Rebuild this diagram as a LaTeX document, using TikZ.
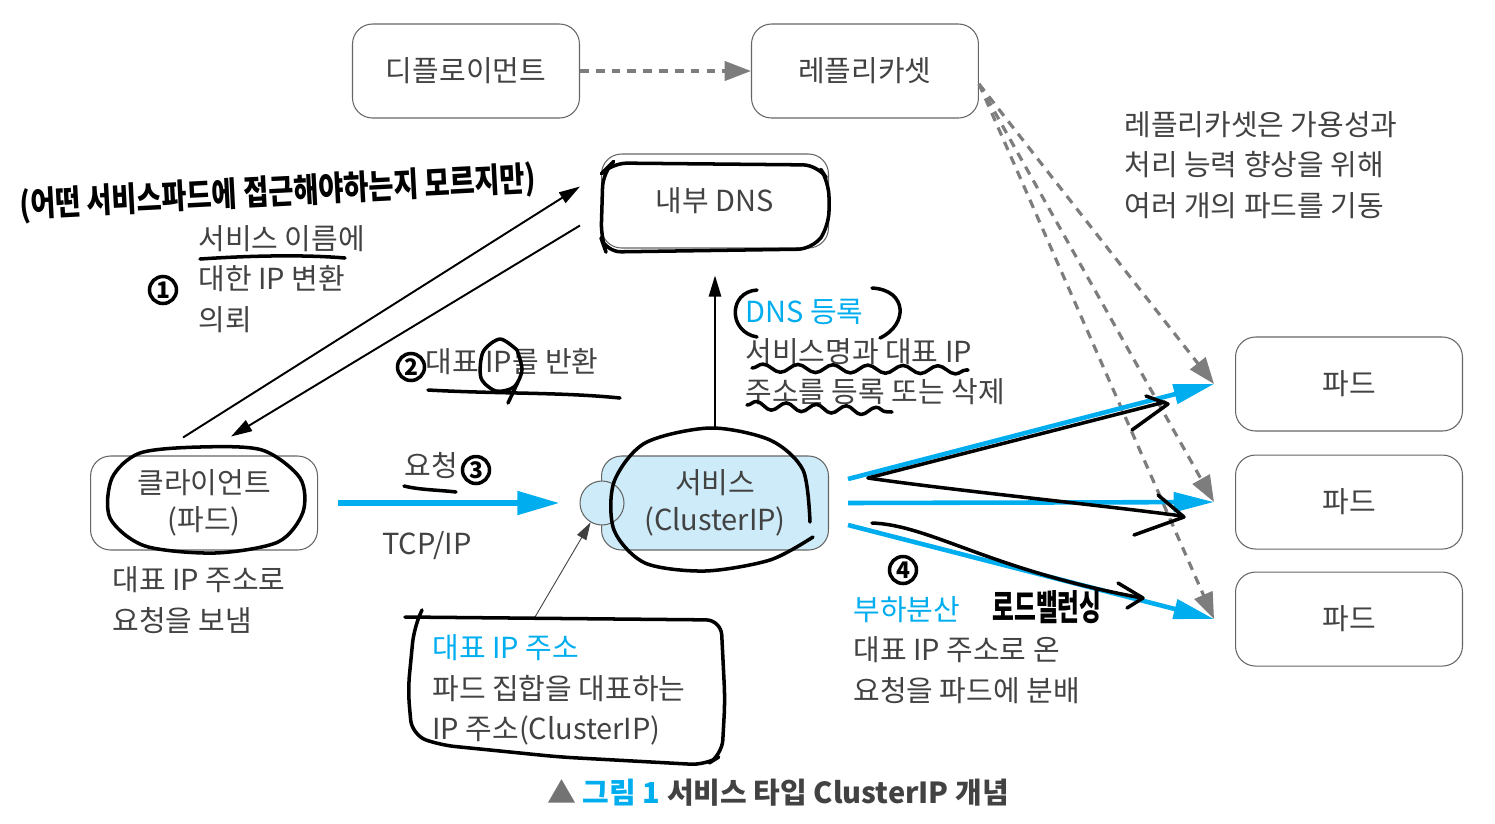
\documentclass[tikz,border=0pt]{standalone}
\usepackage{fontspec}
\setmainfont{Noto Sans CJK KR}
\usepackage{xcolor}
\usepackage{tikz}
\usetikzlibrary{shapes.geometric, arrows.meta, positioning, decorations.pathmorphing}
\definecolor{kblue}{RGB}{0,174,239}
\definecolor{ktext}{RGB}{66,66,66}
\definecolor{svcfill}{RGB}{205,235,248}
\definecolor{dgray}{RGB}{125,125,125}
\tikzstyle{box} = [rectangle, rounded corners=0.4cm, minimum width=4.54cm, minimum height=1.88cm, text centered, align=center, draw=black!60, line width=0.6pt, fill=white, text=ktext, font=\fontsize{16.5}{21}\selectfont]
\tikzstyle{sbox} = [box, fill=svcfill]
\tikzstyle{port} = [circle, minimum size=0.88cm, inner sep=0pt, draw=black!60, line width=0.6pt, fill=svcfill]
\tikzstyle{note} = [anchor=west, align=left, inner sep=0pt, text=ktext, font=\fontsize{16.5}{23}\selectfont]
\tikzstyle{arrow} = [line width=1.1pt, -{Triangle[length=12pt,width=7pt]}]
\tikzstyle{tarrow} = [line width=0.5pt, draw=black!75, -{Triangle[length=10pt,width=6pt]}]
\tikzstyle{barrow} = [draw=kblue, line width=3.2pt, -{Triangle[length=24pt,width=13pt]}]
\tikzstyle{farrow} = [draw=kblue, line width=2.6pt, -{Triangle[length=23pt,width=11pt]}]
\tikzstyle{darrow} = [draw=dgray, line width=1.8pt, dash pattern=on 5pt off 4pt, -{Triangle[length=15pt,width=11pt]}]
\tikzstyle{pen} = [draw=black, line width=2pt, line cap=round, line join=round]
\tikzstyle{numc} = [circle, draw=black, line width=2pt, inner sep=0pt, minimum size=0.54cm, font=\bfseries\fontsize{13}{13}\selectfont]
\tikzstyle{hand} = [inner sep=0pt, font=\bfseries]

\begin{document}
\begin{tikzpicture}[x=0.02cm, y=-0.02cm]

\fill [white] (0,0) rectangle (1495,823);
\useasboundingbox (0,0) rectangle (1495,823);

\node (dep) [box] at (466,71) {디플로이먼트};
\node (rs) [box, right=3.42cm of dep] {레플리카셋};

\node (dns) [box] at (715,201) {내부 DNS};
\node (svc) [sbox, below=4.14cm of dns] {서비스\\(ClusterIP)};
\node (ip) [port] at (602,503) {};
\node (cl) [box, left=5.66cm of svc] {클라이언트\\(파드)};

\node (p1) [box] at (1349,384) {파드};
\node (p2) [box, below=0.46cm of p1] {파드};
\node (p3) [box, below=0.44cm of p2] {파드};

\node (rsnote) [note] at (1124,165) {레플리카셋은 가용성과\\처리 능력 향상을 위해\\여러 개의 파드를 기동};
\node (ask) [note] at (198,279) {서비스 이름에\\대한 IP 변환\\의뢰};
\node (ret) [note] at (425,362) {대표 IP를 반환};
\node (reg) [note] at (745,352) {\textcolor{kblue}{DNS 등록}\\서비스명과 대표 IP\\주소를 등록 또는 삭제};
\node (req) [note] at (404,466) {요청};
\node (tcp) [note] at (382,546) {TCP/IP};
\node (send) [note] at (112,600) {대표 IP 주소로\\요청을 보냄};
\node (ipnote) [note] at (432,690) {\textcolor{kblue}{대표 IP 주소}\\파드 집합을 대표하는\\IP 주소(ClusterIP)};
\node (lb) [note] at (853,650) {\textcolor{kblue}{부하분산}\\대표 IP 주소로 온\\요청을 파드에 분배};
\node (cap) [text=ktext, font=\bfseries\fontsize{16.5}{20}\selectfont] at (778,793) {\textcolor{black!55}{▲} \textcolor{kblue}{그림 1} 서비스 타입 ClusterIP 개념};

\coordinate (fan) at (979,84);
\coordinate (ipfoot) at (535,617);

\draw [darrow] (dep) -- (rs);
\draw [darrow] (fan) -- ([xshift=-0.42cm]p1.west);
\draw [darrow] (fan) -- ([xshift=-0.42cm]p2.west);
\draw [darrow] (fan) -- ([xshift=-0.42cm]p3.west);

\draw [arrow] ([xshift=-0.42cm,yshift=0.36cm]cl.north) -- ([xshift=-0.42cm,yshift=0.29cm]dns.west);
\draw [arrow] ([xshift=-0.42cm,yshift=-0.49cm]dns.west) -- ([xshift=0.54cm,yshift=0.38cm]cl.north);
\draw [arrow, shorten <=0.5cm, shorten >=0.54cm] (svc) -- (dns);
\draw [tarrow] (ipfoot) -- (ip);

\draw [barrow, shorten <=0.4cm, shorten >=0.4cm] (cl) -- (ip);
\draw [farrow] ([xshift=0.38cm,yshift=0.48cm]svc.east) -- ([xshift=-0.42cm]p1.west);
\draw [farrow] ([xshift=0.38cm]svc.east) -- ([xshift=-0.42cm]p2.west);
\draw [farrow] ([xshift=0.38cm,yshift=-0.44cm]svc.east) -- ([xshift=-0.42cm]p3.west);

\node (q) [hand, rotate=3] at (278,193) {\scalebox{1}[1.25]{\fontsize{15.5}{16}\selectfont (어떤 서비스파드에 접근해야하는지 모르지만)}};
\node (lbh) [hand] at (1047,607) {\scalebox{1}[1.5]{\fontsize{13.5}{14}\selectfont 로드밸런싱}};
\node (n1) [numc] at (163,290) {1};
\node (n2) [numc] at (411,367) {2};
\node (n3) [numc] at (476,470) {3};
\node (n4) [numc] at (903,570) {4};

\draw [pen] plot [smooth cycle] coordinates {(200,447) (262,450) (300,478) (303,512) (278,542) (215,553) (145,546) (110,518) (112,478) (140,453)};
\draw [pen] plot [smooth] coordinates {(813,537) (770,560) (705,571) (645,563) (614,530) (614,482) (645,443) (710,428) (770,440) (803,470) (810,522)};
\draw [pen, rounded corners=0.3cm] (603,172) -- (612,163) -- (818,165) -- (829,182) -- (829,226) -- (813,249) -- (606,252) -- (601,238) -- cycle;
\draw [pen, rounded corners=0.3cm] (405,617) -- (721,620) -- (725,700) -- (722,755) -- (706,765) -- (560,757) -- (440,745) -- (412,735) -- (408,690) -- (414,628) -- (422,610);

\draw [pen] (757,290) .. controls (728,292) and (728,332) .. (757,337);
\draw [pen] (872,288) .. controls (908,290) and (908,325) .. (880,338);
\draw [pen, decorate, decoration={snake, amplitude=0.08cm, segment length=0.7cm}] (752,368) -- (968,370);
\draw [pen, decorate, decoration={snake, amplitude=0.08cm, segment length=0.6cm}] (747,405) -- (892,412);

\draw [pen] (200,259) .. controls (260,255) and (310,255) .. (345,258);
\draw [pen] (428,390) .. controls (500,394) and (560,392) .. (620,398);
\draw [pen] (404,486) .. controls (420,490) and (440,490) .. (456,492);
\draw [pen] plot [smooth] coordinates {(517,350) (500,339) (483,352) (481,378) (496,391) (514,387) (522,370) (517,350)};
\draw [pen] (518,382) -- (508,403);

\draw [pen] (868,478) -- (1165,402);
\draw [pen] (1146,396) -- (1168,404) -- (1132,430);
\draw [pen] (868,478) .. controls (950,490) and (1100,505) .. (1182,516);
\draw [pen] (1158,495) -- (1184,517) -- (1134,535);
\draw [pen] (872,523) .. controls (930,525) and (990,570) .. (1142,598);
\draw [pen] (1118,583) -- (1143,598) -- (1127,608);

\end{tikzpicture}
\end{document}
